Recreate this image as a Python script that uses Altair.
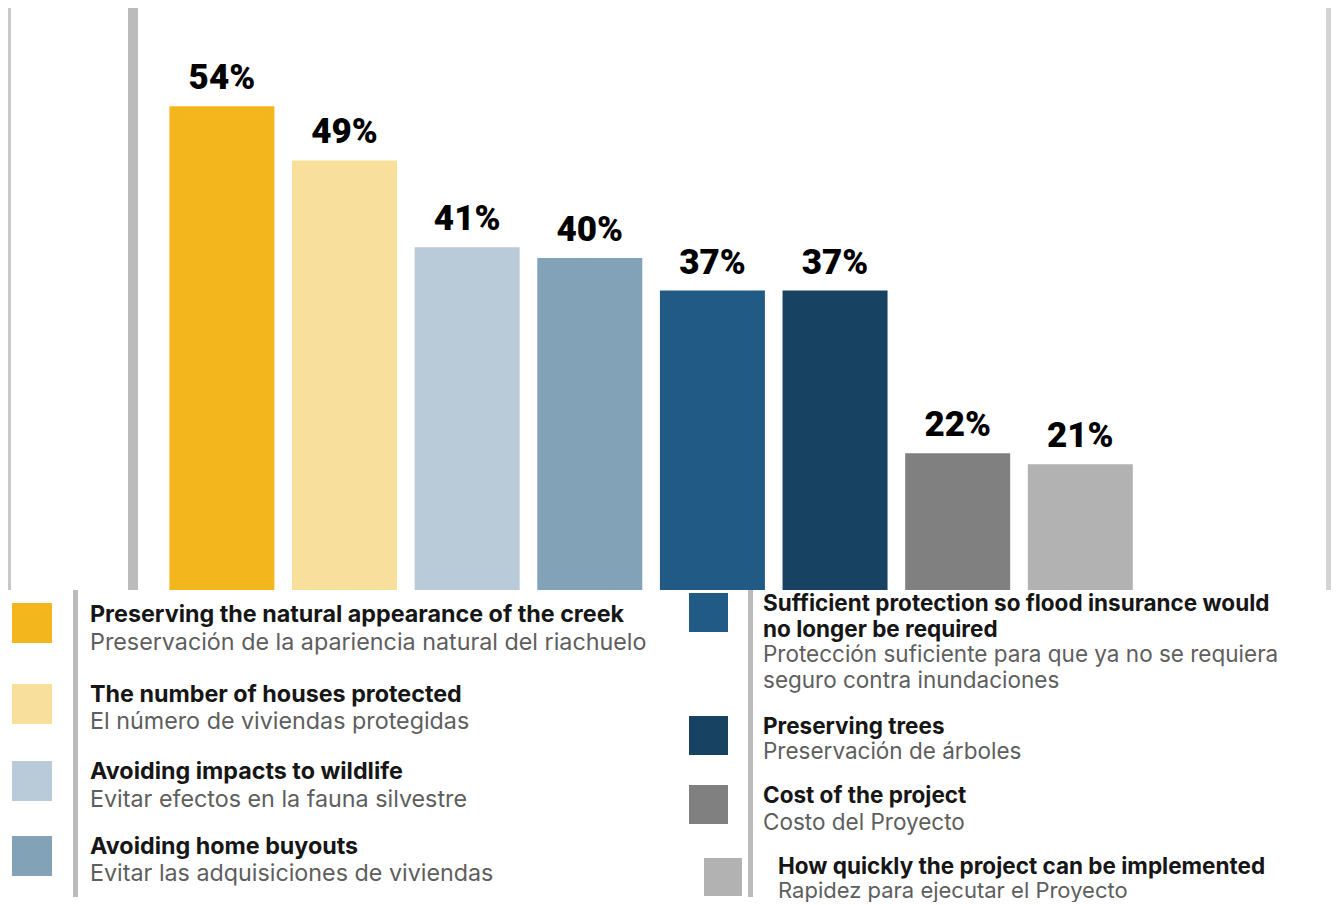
import altair as alt
import pandas as pd

# ---------------- data ----------------
categories = [
    "Preserving the natural appearance of the creek",
    "The number of houses protected",
    "Avoiding impacts to wildlife",
    "Avoiding home buyouts",
    "Sufficient protection so flood insurance would no longer be required",
    "Preserving trees",
    "Cost of the project",
    "How quickly the project can be implemented",
]
values = [54, 49, 41, 40, 37, 37, 22, 21]
value_labels = ["54%", "49%", "41%", "40%", "37%", "37%", "22%", "21%"]
labels_en = [
    ["Preserving the natural appearance of the creek"],
    ["The number of houses protected"],
    ["Avoiding impacts to wildlife"],
    ["Avoiding home buyouts"],
    ["Sufficient protection so flood insurance would", "no longer be required"],
    ["Preserving trees"],
    ["Cost of the project"],
    ["How quickly the project can be implemented"],
]
labels_es = [
    ["Preservación de la apariencia natural del riachuelo"],
    ["El número de viviendas protegidas"],
    ["Evitar efectos en la fauna silvestre"],
    ["Evitar las adquisiciones de viviendas"],
    ["Protección suficiente para que ya no se requiera", "seguro contra inundaciones"],
    ["Preservación de árboles"],
    ["Costo del Proyecto"],
    ["Rapidez para ejecutar el Proyecto"],
]
colors = ["#F3B71D", "#F8DF9C", "#B9CBD8", "#82A2B8", "#215A85", "#184262", "#808080", "#B2B2B2"]

# ---------------- layout (styling) ----------------
W = 1323
TOP_H = 582
LEG_H = 307
Y_MIN, Y_MAX = 9.4, 63.05
GRID = "#BBBBBB"
LABEL_FONT = "Noto Sans Condensed, Liberation Sans Narrow, Roboto, sans-serif"
LEG_FONT = "Inter, Open Sans, sans-serif"

# legend layout per item: swatch box, text x, font sizes, english / spanish line centres
sw_x = [4, 4, 4, 4, 681, 681, 681, 696]
sw_w = [40, 40, 40, 40, 39, 39, 39, 38]
sw_y = [13, 94, 171, 246, 3, 126, 195, 268]
tx_x = [82, 82, 82, 82, 755, 755, 755, 770]
en_fs = [23.3, 23.3, 23.3, 23.3, 22.5, 22.5, 22.5, 22.5]
es_fs = [23.3, 23.3, 23.3, 23.3, 22.5, 22.5, 22.5, 22.0]
en_y = [[23], [103], [180], [255], [12, 38], [135], [204], [275]]
es_y = [[51], [130], [208], [282], [63, 89], [160], [231], [299]]

bars = pd.DataFrame({"cat": categories, "value": values, "label": value_labels, "color": colors})

x_enc = alt.X("cat:N", sort=categories, axis=None,
              scale=alt.Scale(range=[161.4, 1124.8], paddingInner=0.1438, paddingOuter=0))
y_scale = alt.Scale(domain=[Y_MIN, Y_MAX], zero=False, nice=False)

bar_layer = alt.Chart(bars).mark_bar().encode(
    x=x_enc,
    y=alt.Y("value:Q", scale=y_scale, axis=None),
    y2=alt.datum(Y_MIN),
    color=alt.Color("color:N", scale=None, legend=None),
)
text_layer = alt.Chart(bars).mark_text(
    baseline="alphabetic", dy=-17, font=LABEL_FONT,
    fontSize=35, fontWeight=900, color="#000000",
).encode(
    x=x_enc,
    y=alt.Y("value:Q", scale=y_scale, axis=None),
    text="label:N",
)


def vbar(x0, x1, y0, y1, color):
    return alt.Chart(bars).mark_rect(color=color).encode(
        x=alt.value(x0), x2=alt.value(x1), y=alt.value(y0), y2=alt.value(y1))


axis_line = vbar(120, 130, 0, TOP_H, GRID)
left_edge = vbar(0, 3, 0, TOP_H, "#C8C8C8")
right_edge = vbar(W - 5, W, 0, TOP_H, "#D3D3D3")

top = alt.layer(left_edge, right_edge, axis_line, bar_layer, text_layer).properties(width=W, height=TOP_H)

# ---------------- legend ----------------
sw = pd.DataFrame({
    "x": sw_x,
    "x2": [a + b for a, b in zip(sw_x, sw_w)],
    "y": sw_y,
    "y2": [a + b for a, b in zip(sw_y, sw_w)],
    "color": colors,
})
rows = []
for i in range(len(categories)):
    for t, yy in zip(labels_en[i], en_y[i]):
        rows.append({"x": tx_x[i], "y": yy, "text": t, "kind": "en", "fs": en_fs[i]})
    for t, yy in zip(labels_es[i], es_y[i]):
        rows.append({"x": tx_x[i], "y": yy, "text": t, "kind": "es", "fs": es_fs[i]})
lines = pd.DataFrame(rows)

lx = alt.Scale(domain=[0, W], range=[0, W], nice=False, zero=False)
ly = alt.Scale(domain=[0, LEG_H], range=[0, LEG_H], nice=False, zero=False)

sw_layer = alt.Chart(sw).mark_rect().encode(
    x=alt.X("x:Q", scale=lx, axis=None), x2="x2:Q",
    y=alt.Y("y:Q", scale=ly, axis=None), y2="y2:Q",
    color=alt.Color("color:N", scale=None, legend=None),
)
en_layer = alt.Chart(lines).transform_filter(alt.datum.kind == "en").mark_text(
    align="left", baseline="middle", dy=2, font=LEG_FONT, fontWeight="bold", color="#161616",
).encode(x=alt.X("x:Q", scale=lx, axis=None), y=alt.Y("y:Q", scale=ly, axis=None),
         text="text:N", size=alt.Size("fs:Q", scale=None, legend=None))
es_layer = alt.Chart(lines).transform_filter(alt.datum.kind == "es").mark_text(
    align="left", baseline="middle", dy=2, font=LEG_FONT, color="#5E5E5E",
).encode(x=alt.X("x:Q", scale=lx, axis=None), y=alt.Y("y:Q", scale=ly, axis=None),
         text="text:N", size=alt.Size("fs:Q", scale=None, legend=None))


def lbar(x0, x1):
    return alt.Chart(sw).mark_rect(color=GRID).encode(
        x=alt.value(x0), x2=alt.value(x1), y=alt.value(0), y2=alt.value(LEG_H))


bottom = alt.layer(lbar(65, 70), lbar(740, 745), sw_layer, en_layer, es_layer).properties(width=W, height=LEG_H)

chart = alt.vconcat(top, bottom, spacing=0, padding=0).configure_view(stroke=None).configure_concat(spacing=0)

chart.save("out.html", embed_options={"renderer": "svg", "actions": False})
